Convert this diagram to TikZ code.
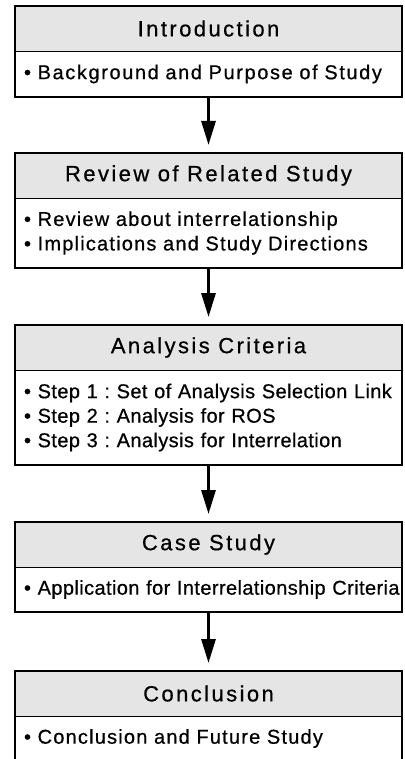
\documentclass[tikz,border=0pt]{standalone}
\usepackage{fontspec}
\setmainfont{Liberation Sans}
\newfontfamily\titfont[LetterSpace=11,FakeBold=0.6]{Liberation Sans}
\newfontfamily\txtfont[LetterSpace=6,FakeBold=0.6]{Liberation Sans}
\newfontfamily\anchofont[LetterSpace=8,FakeBold=0.6]{Liberation Sans}
\newfontfamily\apretfont[LetterSpace=2,FakeBold=0.6]{Liberation Sans}
\usetikzlibrary{arrows.meta,positioning}
\frenchspacing

\begin{document}
\begin{tikzpicture}[x=1pt,y=1pt,line width=0.7pt,>={Triangle[length=24pt,width=14pt]},
  titulo/.style={draw,fill=black!10,outer sep=0pt,inner sep=0pt,minimum width=387pt,minimum height=45pt,font=\fontsize{22}{26}\selectfont\titfont},
  cuerpo/.style={outer sep=0pt,inner xsep=9pt,inner ysep=0pt,text width=380pt,align=left,anchor=north west,font=\fontsize{20}{24.5}\selectfont#1},
  cuerpo/.default=\txtfont,
  flecha/.style={->,line width=3pt,shorten >=8pt}]
  \path[use as bounding box,clip] (0,0) rectangle (404,-759);
  % bloques: titulo gris y texto debajo
  \node[titulo] (t1) at (208.5,-28.5) {Introduction};
  \node[cuerpo=\anchofont,minimum height=46pt,below=0pt of t1.south west,anchor=north west] (c1) {• Background and Purpose of Study};
  \node[titulo,below=56pt of t1.south|-c1.south] (t2) {Review of Related Study};
  \node[cuerpo,minimum height=70pt,below=0pt of t2.south west,anchor=north west] (c2) {• Review about interrelationship\\• Implications and Study Directions};
  \node[titulo,below=57pt of t2.south|-c2.south] (t3) {Analysis Criteria};
  \node[cuerpo=\apretfont,minimum height=95pt,below=0pt of t3.south west,anchor=north west] (c3) {• Step 1 : Set of Analysis Selection Link\\• Step 2 : Analysis for ROS\\• Step 3 : Analysis for Interrelation};
  \node[titulo,below=57pt of t3.south|-c3.south] (t4) {Case Study};
  \node[cuerpo=\apretfont,minimum height=45pt,below=0pt of t4.south west,anchor=north west] (c4) {• Application for Interrelationship Criteria};
  \node[titulo,below=59pt of t4.south|-c4.south] (t5) {Conclusion};
  \node[cuerpo,minimum height=45pt,below=0pt of t5.south west,anchor=north west] (c5) {• Conclusion and Future Study};
  % marcos y flechas
  \foreach \i in {1,...,5}{
    \draw[line width=1.5pt] (t\i.north west) rectangle (t\i.east|-c\i.south);
    \draw[line width=2.6pt] (t\i.west|-c\i.south) -- (t\i.east|-c\i.south);
  }
  \foreach \i/\j in {1/2,2/3,3/4,4/5}
    \draw[flecha] (t\i.south|-c\i.south) -- (t\j);
\end{tikzpicture}
\end{document}
